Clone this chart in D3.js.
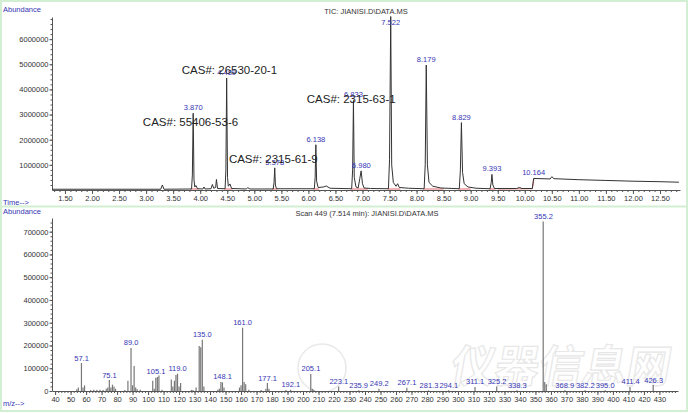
<!DOCTYPE html>
<html>
<head>
<meta charset="utf-8">
<script src="https://cdn.jsdelivr.net/npm/d3@7"></script>
<style>
  body { margin: 0; background: #fff; }
  svg { display: block; font-family: "Liberation Sans", Arial, sans-serif; }
  .tick text { fill: #333; font-size: 7.5px; }
  .tick line, .domain { stroke: #555; }
</style>
</head>
<body>
<svg width="690" height="413"></svg>
<script>
// TIC trace: [time (min), abundance]
const ticTrace = [
  [1.26, 30000], [3.27, 30000], [3.30, 200000], [3.33, 30000],
  [3.84, 40000], [3.855, 600000], [3.87, 3050000], [3.885, 400000], [3.90, 120000], [3.92, 180000], [3.95, 50000],
  [4.05, 40000], [4.07, 120000], [4.09, 40000],
  [4.20, 50000], [4.225, 220000], [4.25, 70000], [4.285, 100000], [4.30, 420000], [4.32, 60000],
  [4.46, 50000], [4.475, 800000], [4.489, 4450000], [4.505, 500000], [4.52, 150000], [4.55, 240000], [4.58, 60000],
  [4.85, 40000], [4.88, 90000], [4.92, 40000],
  [5.35, 40000], [5.365, 300000], [5.378, 880000], [5.39, 200000], [5.41, 50000],
  [6.11, 50000], [6.125, 500000], [6.138, 1800000], [6.152, 350000], [6.18, 100000], [6.28, 120000], [6.33, 160000], [6.40, 70000],
  [6.80, 50000], [6.818, 800000], [6.833, 3560000], [6.848, 500000], [6.88, 120000], [6.92, 80000], [6.95, 450000], [6.975, 760000], [7.00, 250000], [7.03, 80000], [7.15, 60000],
  [7.48, 50000], [7.50, 1200000], [7.522, 6900000], [7.54, 1000000], [7.57, 300000], [7.62, 150000], [7.65, 250000], [7.68, 100000], [7.85, 70000],
  [8.14, 50000], [8.16, 1000000], [8.179, 4970000], [8.20, 1000000], [8.23, 300000], [8.30, 150000], [8.45, 80000],
  [8.79, 50000], [8.81, 800000], [8.829, 2680000], [8.85, 700000], [8.88, 250000], [8.95, 120000], [9.10, 70000],
  [9.36, 50000], [9.38, 300000], [9.393, 620000], [9.41, 200000], [9.44, 60000],
  [9.85, 60000], [9.90, 100000], [9.95, 60000], [10.14, 60000], [10.164, 460000], [10.30, 450000],
  [10.47, 440000], [10.50, 530000], [10.54, 450000], [11.00, 410000], [11.50, 380000], [12.00, 350000],
  [12.50, 330000], [12.85, 310000]
];

// integration baselines (red)
const ticBaselines = [
  [[3.82, 40000], [3.97, 40000]], [[4.44, 40000], [4.60, 40000]], [[5.33, 40000], [5.43, 40000]],
  [[6.09, 40000], [6.20, 40000]], [[6.78, 40000], [7.10, 40000]], [[7.46, 40000], [7.70, 40000]],
  [[8.12, 40000], [8.50, 40000]], [[8.77, 40000], [9.00, 40000]], [[9.34, 40000], [9.46, 40000]],
  [[9.50, 40000], [10.14, 50000]], [[10.14, 50000], [10.17, 460000]]
];

const peakTimes = ["3.870", "4.489", "5.378", "6.138", "6.833", "6.980", "7.522", "8.179", "8.829", "9.393", "10.164"];
const peakHeights = [3050000, 4450000, 880000, 1800000, 3560000, 760000, 6900000, 4970000, 2680000, 620000, 460000];

const casNames = ["CAS#: 55406-53-6", "CAS#: 26530-20-1", "CAS#: 2315-61-9", "CAS#: 2315-63-1"];
const casTimes = [2.94, 3.66, 4.53, 5.97];
const casLevels = [2550000, 4610000, 1070000, 3460000];

const ticYTicks = [1000000, 2000000, 3000000, 4000000, 5000000, 6000000];

// mass spectrum, scan 449
const msMz = [54, 55, 57, 58, 59, 63, 65, 67, 69, 71, 73, 74, 75, 76, 77, 78, 79, 85, 87, 89, 90, 91, 92, 93, 95,
  103, 104, 105, 106, 107, 109, 115, 116, 117, 118, 119, 120, 121, 128, 129, 131, 133, 134, 135, 136,
  145, 146, 147, 148, 149, 159, 160, 161, 162, 163, 165, 173, 176, 177, 178, 189, 192, 205, 206, 207,
  223, 236, 249, 267, 281, 294, 311, 325, 338, 355, 356, 357, 369, 382, 395, 411, 426];
const msAbund = [8000, 15000, 123000, 15000, 25000, 4000, 6000, 5000, 5000, 4000, 10000, 15000, 48000, 15000, 28000, 20000, 10000, 4000, 45000, 189000, 25000, 110000, 15000, 8000, 5000,
  45000, 10000, 58000, 62000, 68000, 5000, 50000, 20000, 45000, 70000, 76000, 20000, 35000, 5000, 4000, 15000, 198000, 192000, 225000, 20000,
  5000, 10000, 40000, 38000, 15000, 15000, 25000, 278000, 40000, 30000, 5000, 4000, 10000, 35000, 10000, 4000, 5000, 75000, 10000, 5000,
  20000, 3000, 10000, 14000, 3000, 3000, 18000, 20000, 3000, 745000, 40000, 30000, 3000, 3000, 3000, 18000, 26000];

const msLabels = ["57.1", "75.1", "89.0", "105.1", "119.0", "135.0", "148.1", "161.0", "177.1", "192.1", "205.1",
  "223.1", "235.9", "249.2", "267.1", "281.3", "294.1", "311.1", "325.2", "338.3", "355.2", "368.9",
  "382.2", "395.0", "411.4", "426.3"];
const msLabelAbund = [123000, 48000, 189000, 62000, 76000, 225000, 40000, 278000, 35000, 5000, 75000,
  20000, 3000, 10000, 14000, 3000, 3000, 18000, 20000, 3000, 745000, 3000, 3000, 3000, 18000, 26000];

const msYTicks = [0, 100000, 200000, 300000, 400000, 500000, 600000, 700000];

const svg = d3.select("svg");
const blue = "#3636b4";

// light green frame
svg.append("rect").attr("x", 1).attr("y", 1).attr("width", 686).attr("height", 410)
  .attr("fill", "none").attr("stroke", "#d3efd3").attr("stroke-width", 2);
svg.append("line").attr("x1", 1).attr("x2", 687).attr("y1", 206.5).attr("y2", 206.5)
  .attr("stroke", "#d3efd3").attr("stroke-width", 2);

// ---------- TIC panel ----------
const xT = d3.scaleLinear().domain([1.26, 12.87]).range([52, 680]);
const yT = d3.scaleLinear().domain([0, 6880000]).range([190, 17]);

const gT = svg.append("g");

gT.append("g")
  .attr("transform", "translate(0,190)")
  .call(d3.axisBottom(xT).tickValues(d3.range(13, 129).map(d => d / 10)).tickSize(2).tickFormat(""))
  .call(g => g.select(".domain").remove());
gT.append("g")
  .attr("transform", "translate(0,190)")
  .call(d3.axisBottom(xT).tickValues(d3.range(3, 26).map(d => d / 2)).tickSize(4).tickSizeOuter(0).tickPadding(2).tickFormat(d3.format(".2f")));

gT.append("g")
  .attr("transform", "translate(52,0)")
  .call(d3.axisLeft(yT).tickValues(d3.range(1, 35).map(d => d * 200000)).tickSize(1.5).tickFormat(""))
  .call(g => g.select(".domain").remove());
gT.append("g")
  .attr("transform", "translate(52,0)")
  .call(d3.axisLeft(yT).tickValues(ticYTicks).tickSize(2.5).tickSizeOuter(0).tickPadding(1).tickFormat(d3.format("d")));

gT.selectAll("path.base")
  .data(ticBaselines)
  .join("path")
  .attr("class", "base")
  .attr("fill", "none")
  .attr("stroke", "#e06a6a")
  .attr("stroke-width", 1)
  .attr("d", d3.line().x(d => xT(d[0])).y(d => yT(d[1])));

gT.append("path")
  .datum(ticTrace)
  .attr("fill", "none")
  .attr("stroke", "#333")
  .attr("stroke-width", 1)
  .attr("d", d3.line().x(d => xT(d[0])).y(d => yT(d[1])));

gT.selectAll("text.pk")
  .data(peakTimes)
  .join("text")
  .attr("class", "pk")
  .attr("x", d => xT(+d))
  .attr("y", (d, i) => Math.max(yT(peakHeights[i]) - 3, 25))
  .attr("text-anchor", "middle")
  .attr("font-size", "7.5px")
  .attr("fill", blue)
  .text(d => d);

gT.selectAll("text.cas")
  .data(casNames)
  .join("text")
  .attr("class", "cas")
  .attr("x", (d, i) => xT(casTimes[i]))
  .attr("y", (d, i) => yT(casLevels[i]))
  .attr("font-size", "11.5px")
  .attr("fill", "#222")
  .text(d => d);

svg.append("text").attr("x", 366).attr("y", 14).attr("text-anchor", "middle")
  .attr("font-size", "7.5px").attr("fill", "#333").text("TIC: JIANISI.D\\DATA.MS");
svg.append("text").attr("x", 3).attr("y", 12).attr("font-size", "7.5px").attr("fill", blue).text("Abundance");
svg.append("text").attr("x", 3).attr("y", 205).attr("font-size", "7.5px").attr("fill", blue).text("Time-->");

// ---------- mass spectrum panel ----------
const xB = d3.scaleLinear().domain([38, 442]).range([52, 678]);
const yB = d3.scaleLinear().domain([0, 760000]).range([391, 218]);

const gB = svg.append("g");

// watermark
const wm = gB.append("g").attr("opacity", 0.55);
wm.append("circle").attr("cx", 322).attr("cy", 368).attr("r", 24)
  .attr("fill", "#fff").attr("stroke", "#d8d8d8").attr("stroke-width", 1.5);
wm.append("text").attr("x", 560).attr("y", 382).attr("text-anchor", "middle")
  .attr("font-family", "Noto Sans CJK SC").attr("font-size", "44px").attr("font-weight", "bold")
  .attr("fill", "#fff").attr("stroke", "#d4d4d4").attr("stroke-width", 1.2)
  .attr("transform", "skewX(-10) translate(66,0)")
  .text("仪器信息网");

gB.append("g")
  .attr("transform", "translate(0,391)")
  .call(d3.axisBottom(xB).tickValues(d3.range(40, 442, 2)).tickSize(2).tickFormat(""))
  .call(g => g.select(".domain").remove());
gB.append("g")
  .attr("transform", "translate(0,391)")
  .call(d3.axisBottom(xB).tickValues(d3.range(40, 431, 10)).tickSize(4).tickSizeOuter(0).tickPadding(2).tickFormat(d3.format("d")));

gB.append("g")
  .attr("transform", "translate(52,0)")
  .call(d3.axisLeft(yB).tickValues(d3.range(1, 38).map(d => d * 20000)).tickSize(1.5).tickFormat(""))
  .call(g => g.select(".domain").remove());
gB.append("g")
  .attr("transform", "translate(52,0)")
  .call(d3.axisLeft(yB).tickValues(msYTicks).tickSize(2.5).tickSizeOuter(0).tickPadding(1).tickFormat(d3.format("d")));

gB.selectAll("line.bar")
  .data(msMz)
  .join("line")
  .attr("class", "bar")
  .attr("x1", d => xB(d)).attr("x2", d => xB(d))
  .attr("y1", yB(0))
  .attr("y2", (d, i) => yB(msAbund[i]))
  .attr("stroke", "#777")
  .attr("stroke-width", 1.2);

gB.selectAll("text.ms")
  .data(msLabels)
  .join("text")
  .attr("class", "ms")
  .attr("x", d => xB(+d))
  .attr("y", (d, i) => Math.min(yB(msLabelAbund[i]) - 2.5, 389))
  .attr("text-anchor", "middle")
  .attr("font-size", "7.5px")
  .attr("fill", blue)
  .text(d => d);

svg.append("text").attr("x", 367).attr("y", 216).attr("text-anchor", "middle")
  .attr("font-size", "7.5px").attr("fill", "#333").text("Scan 449 (7.514 min): JIANISI.D\\DATA.MS");
svg.append("text").attr("x", 3).attr("y", 214).attr("font-size", "7.5px").attr("fill", blue).text("Abundance");
svg.append("text").attr("x", 3).attr("y", 406).attr("font-size", "7.5px").attr("fill", blue).text("m/z-->");
</script>
</body>
</html>
